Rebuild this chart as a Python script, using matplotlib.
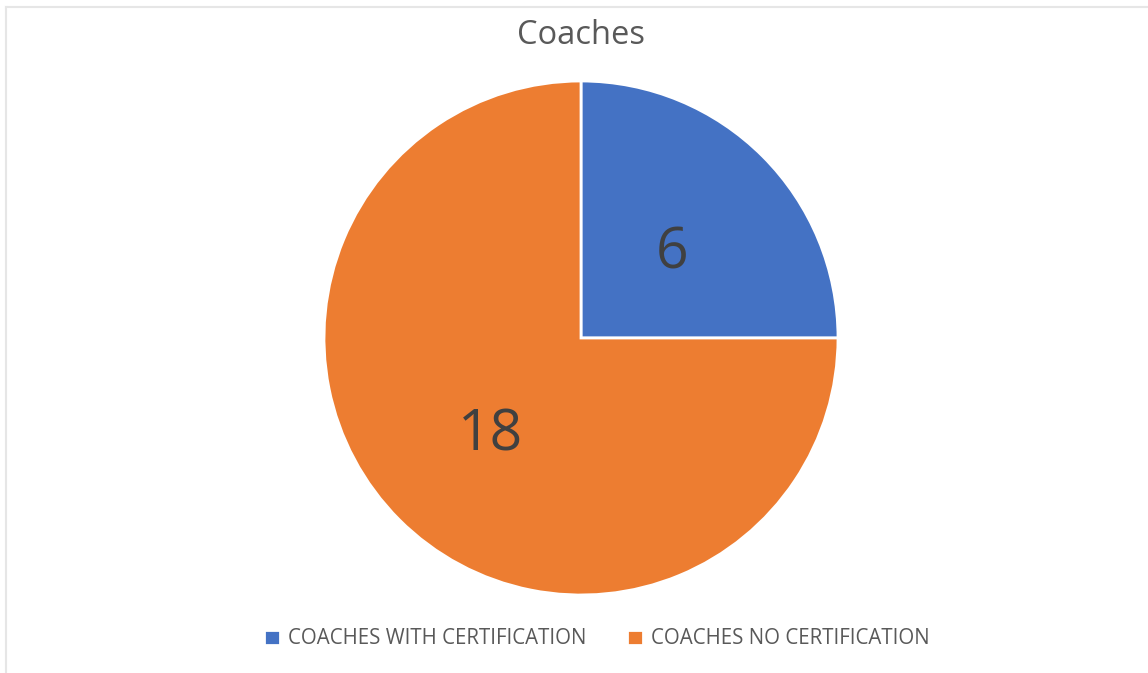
import matplotlib.pyplot as plt
from matplotlib.lines import Line2D

labels = ["COACHES WITH CERTIFICATION", "COACHES NO CERTIFICATION"]
values = [6, 18]
colors = ["#4472C4", "#ED7D31"]

plt.rcParams["font.family"] = ["Open Sans", "DejaVu Sans"]

W, H = 1148, 673
fig = plt.figure(figsize=(W / 100, H / 100), dpi=100)

# light frame on top and left, like the screenshot
fig.add_artist(Line2D([6 / W, 1], [1 - 7 / H, 1 - 7 / H], color="#e6e6e6", lw=1.5))
fig.add_artist(Line2D([6 / W, 6 / W], [0, 1 - 7 / H], color="#e6e6e6", lw=1.5))

# pie centred at (581, 338) px, radius 257 px
cx, cy, r = 581, 338, 257
ax = fig.add_axes([(cx - r) / W, (H - cy - r) / H, 2 * r / W, 2 * r / H])
wedges, texts = ax.pie(values, colors=colors, startangle=90, counterclock=False,
                       labels=[str(v) for v in values], labeldistance=0.5,
                       wedgeprops=dict(edgecolor="white", linewidth=2))
for t in texts:
    t.set_fontsize(41)
    t.set_color("#404040")
    t.set_ha("center")
    t.set_va("center_baseline")
ax.set_xlim(-1, 1)
ax.set_ylim(-1, 1)
ax.set_aspect("equal")

fig.text(581 / W, 1 - 35 / H, "Coaches", ha="center", va="center",
         fontsize=23.5, color="#595959")

fig.legend(wedges, labels, loc="center", bbox_to_anchor=(597 / W, 1 - 639 / H),
           ncol=2, frameon=False, fontsize=14.8, labelcolor="#595959",
           handlelength=0.75, handleheight=0.75, handletextpad=0.4, columnspacing=2.0)

plt.savefig("out.png", dpi=100)
